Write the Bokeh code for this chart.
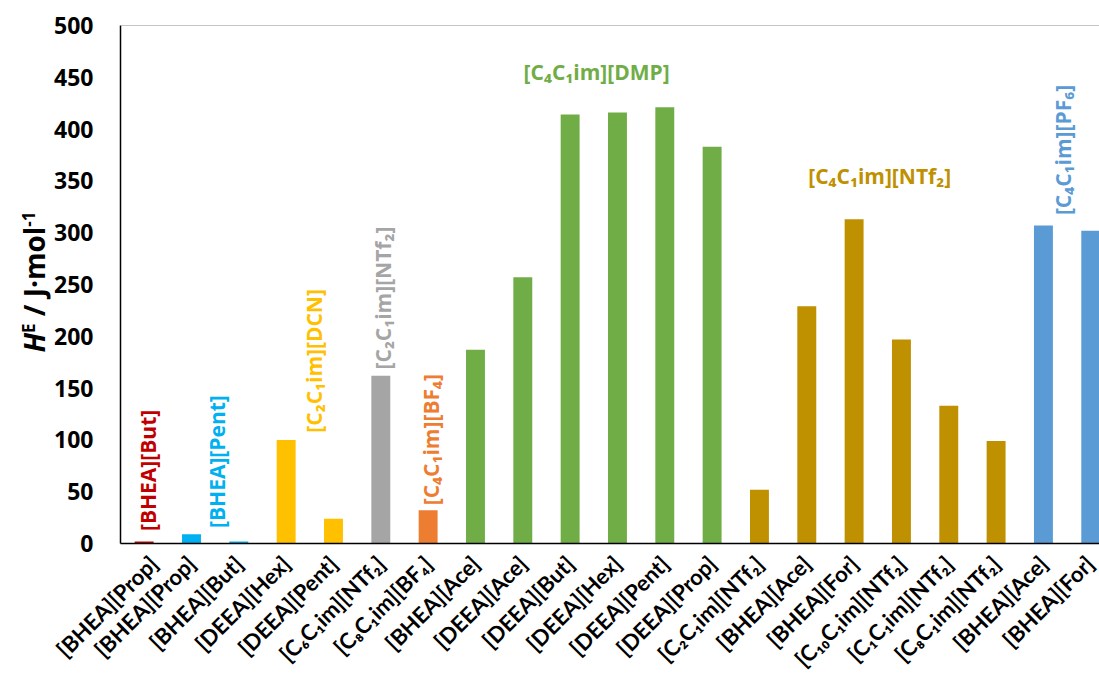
from math import pi

from bokeh.embed import file_html
from bokeh.layouts import row
from bokeh.models import ColumnDataSource, Div, FixedTicker, Label, Range1d, Span
from bokeh.plotting import figure
from bokeh.resources import INLINE

# Excess enthalpies H^E (J/mol) for each ionic-liquid / solvent pair
categories = [
    "[BHEA][Prop]", "[BHEA][Prop]", "[BHEA][But]", "[DEEA][Hex]", "[DEEA][Pent]",
    "[C₆C₁im][NTf₂]", "[C₈C₁im][BF₄]", "[BHEA][Ace]", "[DEEA][Ace]", "[DEEA][But]",
    "[DEEA][Hex]", "[DEEA][Pent]", "[DEEA][Prop]", "[C₂C₁im][NTf₂]", "[BHEA][Ace]",
    "[BHEA][For]", "[C₁₀C₁im][NTf₂]", "[C₁C₁im][NTf₂]", "[C₈C₁im][NTf₂]",
    "[BHEA][Ace]", "[BHEA][For]",
]
values = [2, 9, 2, 100, 24, 162, 32, 187, 257, 414, 416, 421, 383,
          52, 229, 313, 197, 133, 99, 307, 302]

group_names = ["[BHEA][But]", "[BHEA][Pent]", "[C₂C₁im][DCN]", "[C₂C₁im][NTf₂]",
               "[C₄C₁im][BF₄]", "[C₄C₁im][DMP]", "[C₄C₁im][NTf₂]", "[C₄C₁im][PF₆]"]
group_sizes = [1, 2, 2, 1, 1, 6, 6, 2]
group_colors = ["#C00000", "#00B0F0", "#FFC000", "#A5A5A5",
                "#ED7D31", "#70AD47", "#BF9000", "#5B9BD5"]

y_ticks = list(range(0, 501, 50))

FONT = "Open Sans"
TICK_FONT = "Lato"

colors = [c for c, n in zip(group_colors, group_sizes) for _ in range(n)]
xs = list(range(len(categories)))
source = ColumnDataSource(dict(x=xs, top=values, color=colors))

# page geometry: a narrow column for the y title, then the chart
TITLE_W = 50
LEFT, TOP, FRAME_H, BOTTOM = 120, 25, 518, 132
BAND = 47.33                      # pixels per category
FRAME_W = 1099 - LEFT
x_end = -0.5 + FRAME_W / BAND     # the last band runs off the right edge

p = figure(
    frame_width=FRAME_W, frame_height=FRAME_H,
    min_border_left=LEFT - TITLE_W, min_border_right=0,
    min_border_top=TOP, min_border_bottom=BOTTOM,
    x_range=Range1d(-0.5, x_end), y_range=Range1d(0, 500),
    output_backend="svg", toolbar_location=None, margin=0,
)
p.outline_line_color = None
p.xgrid.grid_line_color = None
p.ygrid.grid_line_color = None
p.background_fill_color = "white"
p.border_fill_color = "white"

p.vbar(x="x", top="top", width=0.4, source=source,
       fill_color="color", line_color=None)

# thin border along the top of the plot area
p.add_layout(Span(location=500, dimension="width",
                  line_color="#8C8C8C", line_width=1))

# axes
yax = p.yaxis[0]
yax.ticker = FixedTicker(ticks=y_ticks)
yax.major_label_text_font = FONT
yax.major_label_text_font_style = "bold"
yax.major_label_text_font_size = "23px"
yax.major_label_text_color = "black"
yax.major_tick_line_color = None
yax.minor_tick_line_color = None
yax.major_tick_out = 0
yax.major_tick_in = 0
yax.major_label_standoff = 27
yax.axis_line_color = "black"
yax.axis_line_width = 1.5

xax = p.xaxis[0]
xax.ticker = FixedTicker(ticks=xs)
xax.major_label_overrides = {i: c for i, c in enumerate(categories)}
xax.major_label_orientation = pi / 4
xax.major_label_text_font = TICK_FONT
xax.major_label_text_font_style = "bold"
xax.major_label_text_font_size = "22px"
xax.major_label_text_color = "black"
xax.major_tick_line_color = None
xax.minor_tick_line_color = None
xax.major_tick_out = 0
xax.major_tick_in = 0
xax.major_label_standoff = 16
xax.axis_line_color = "black"
xax.axis_line_width = 1.5

# group names written next to their bars: (x, y, angle, alignment)
group_label_layout = [
    (0.09, 12, pi / 2, "left"),
    (1.53, 15, pi / 2, "left"),
    (3.58, 107, pi / 2, "left"),
    (5.04, 168, pi / 2, "left"),
    (6.05, 37, pi / 2, "left"),
    (9.56, 455, 0, "center"),
    (15.54, 355, 0, "center"),
    (19.42, 317, pi / 2, "left"),
]
for name, color, (gx, gy, ang, align) in zip(group_names, group_colors, group_label_layout):
    p.add_layout(Label(
        x=gx, y=gy, text=name, angle=ang,
        text_align=align, text_baseline="middle",
        text_color=color, text_font=FONT, text_font_style="bold",
        text_font_size="21px",
    ))

# y-axis title: italic H with superscripts, rotated to read upwards
y_title = Div(
    width=TITLE_W, height=TOP + FRAME_H + BOTTOM, margin=0,
    text=(
        '<div style="position:absolute; left:34px; top:282px; '
        'transform: translate(-50%, -50%) rotate(-90deg); white-space: nowrap; '
        "font-family: 'Open Sans'; font-weight: bold; font-size: 28px; "
        'color: black; line-height: 1;">'
        '<i>H</i><sup style="font-size: 17px;">E</sup> / J·mol'
        '<sup style="font-size: 17px;">-1</sup></div>'
    ),
    styles={"position": "relative", "overflow": "visible"},
)

layout = row(y_title, p, spacing=0)
open("out.html", "w").write(file_html(layout, INLINE))
